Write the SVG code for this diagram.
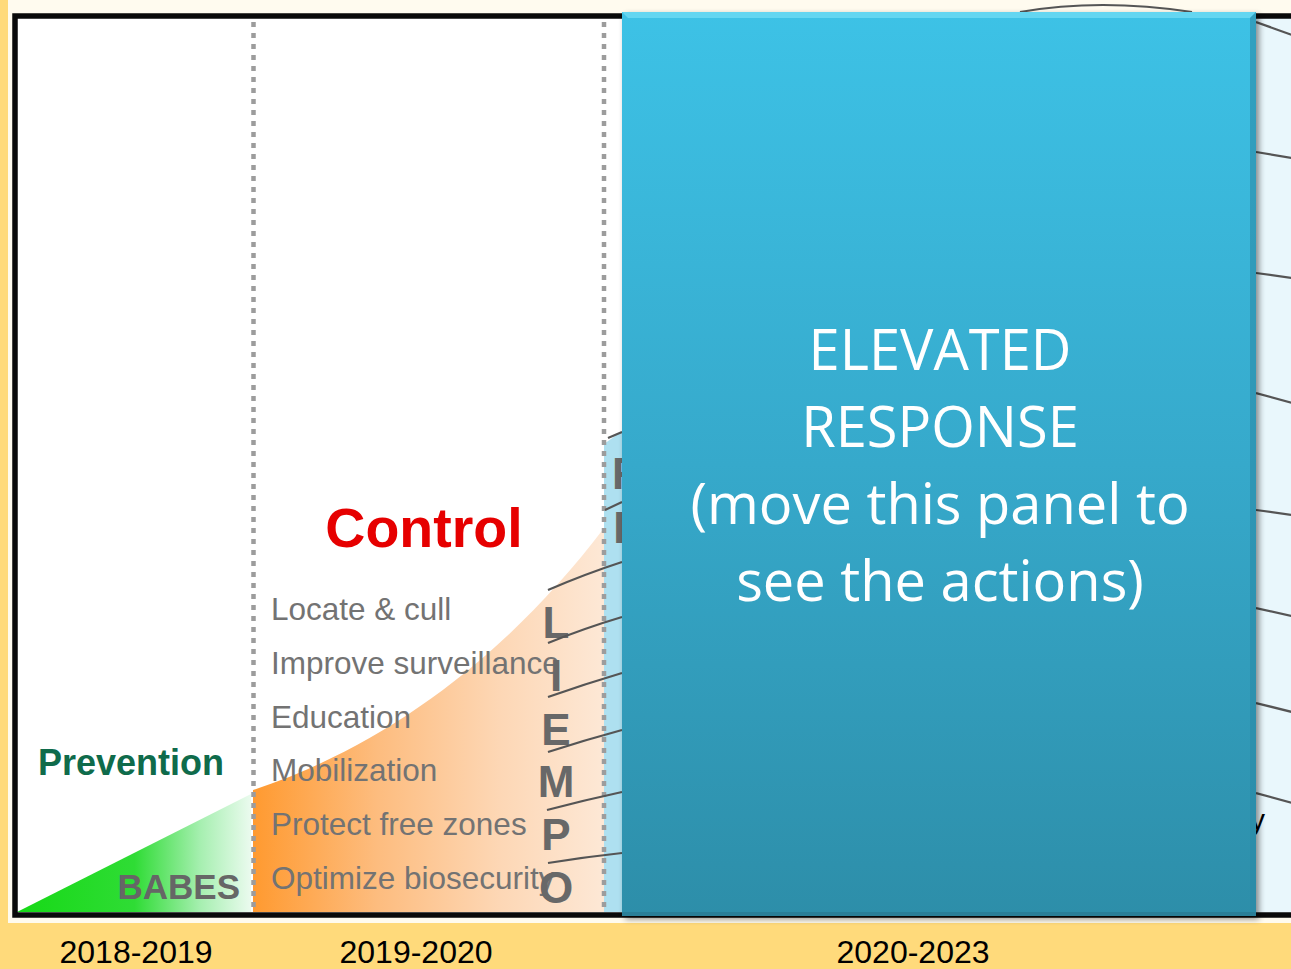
<svg xmlns="http://www.w3.org/2000/svg" width="1291" height="969" viewBox="0 0 1291 969">
<defs>
<style>
.lbl{font-family:"Liberation Sans",Arial,sans-serif;font-size:32px;fill:#000}
.item{font-family:"Liberation Sans",Arial,sans-serif;font-size:31.5px;fill:#737373}
.big{font-family:"Liberation Sans",Arial,sans-serif;font-size:44px;font-weight:bold;fill:#686868;text-anchor:middle}
.ptxt{font-family:"Open Sans","DejaVu Sans",sans-serif;font-size:56px;fill:#fff;text-anchor:middle}
.ln{stroke:#555;stroke-width:2.2;fill:none}
.dot{stroke:#9c9c9c;stroke-width:4.5;stroke-dasharray:5 6;fill:none}
</style>
<linearGradient id="gGreen" x1="17" y1="0" x2="252" y2="0" gradientUnits="userSpaceOnUse">
<stop offset="0" stop-color="#16d916"/>
<stop offset="0.5" stop-color="#2fdc35"/>
<stop offset="0.78" stop-color="#a6efb0"/>
<stop offset="1" stop-color="#ecfbf0"/>
</linearGradient>
<linearGradient id="gOrange" x1="253" y1="0" x2="605" y2="0" gradientUnits="userSpaceOnUse">
<stop offset="0" stop-color="#ff9a30"/>
<stop offset="0.35" stop-color="#fdbc7e"/>
<stop offset="0.7" stop-color="#fdd7b5"/>
<stop offset="1" stop-color="#fde8d6"/>
</linearGradient>
<linearGradient id="gPanel" x1="0" y1="12" x2="0" y2="916" gradientUnits="userSpaceOnUse">
<stop offset="0" stop-color="#3dc2e6"/>
<stop offset="0.5" stop-color="#36a9cb"/>
<stop offset="1" stop-color="#2d8ea9"/>
</linearGradient>
<filter id="sh" x="-5%" y="-5%" width="110%" height="110%">
<feGaussianBlur stdDeviation="3"/>
</filter>
<clipPath id="clipCol"><rect x="590" y="420" width="32" height="200"/></clipPath>
<clipPath id="clipRight"><rect x="1256" y="18" width="40" height="895"/></clipPath>
</defs>

<!-- background -->
<rect x="0" y="0" width="1291" height="969" fill="#ffda7b"/>
<rect x="8" y="0" width="1283" height="923" fill="#fffbef"/>

<g id="chart-area">
<rect x="15" y="16" width="1290" height="899" fill="#ffffff"/>
<rect x="1256" y="18" width="40" height="895" fill="#e9f7fc"/>
</g>

<g id="prevention">
<polygon points="17,912 251,794 251,912" fill="url(#gGreen)"/>
<text x="38" y="775" font-family="Liberation Sans,Arial,sans-serif" font-size="36" font-weight="bold" fill="#0f6b4b">Prevention</text>
<text x="240" y="899" font-family="Liberation Sans,Arial,sans-serif" font-size="35" font-weight="bold" fill="#666666" text-anchor="end">BABES</text>
</g>

<g id="control">
<path d="M253 790 C390 745 510 652 604 528 L604 912 L253 912 Z" fill="url(#gOrange)"/>
<polygon points="604,444 622,431 622,912 604,912" fill="#aee0f0"/>
<text x="424" y="547" font-family="Liberation Sans,Arial,sans-serif" font-size="55.5" font-weight="bold" fill="#e60000" text-anchor="middle">Control</text>
<text class="item" x="271" y="620">Locate &amp; cull</text>
<text class="item" x="271" y="674">Improve surveillance</text>
<text class="item" x="271" y="728">Education</text>
<text class="item" x="271" y="781">Mobilization</text>
<text class="item" x="271" y="835">Protect free zones</text>
<text class="item" x="271" y="889">Optimize biosecurity</text>
</g>

<g id="liempo">
<text class="big" x="556" y="638">L</text>
<text class="big" x="556" y="691">I</text>
<text class="big" x="556" y="745">E</text>
<text class="big" x="556" y="797">M</text>
<text class="big" x="556" y="850">P</text>
<text class="big" x="556" y="903">O</text>
<g clip-path="url(#clipCol)">
<text class="big" x="628" y="489">R</text>
<text class="big" x="628" y="543">E</text>
</g>
</g>

<g id="dividers">
<line class="dot" x1="253.5" y1="22" x2="253.5" y2="912"/>
<line class="dot" x1="604" y1="22" x2="604" y2="912"/>
</g>

<g id="connectors">
<path class="ln" d="M608 438 L622 432"/>
<path class="ln" d="M605 510 L622 502"/>
<path class="ln" d="M548 590 Q585 574 622 562"/>
<path class="ln" d="M548 643 Q585 628 622 617"/>
<path class="ln" d="M548 697 Q585 684 622 673"/>
<path class="ln" d="M548 752 Q585 740 622 730"/>
<path class="ln" d="M547 810 Q585 800 622 792"/>
<path class="ln" d="M548 863 Q585 857 622 853"/>
<path class="ln" d="M1020 12 Q1100 -2 1192 12"/>
<g clip-path="url(#clipRight)">
<path class="ln" d="M1256 22 L1292 35"/>
<path class="ln" d="M1256 152 L1292 158"/>
<path class="ln" d="M1256 273 L1292 278"/>
<path class="ln" d="M1256 393 L1292 403"/>
<path class="ln" d="M1256 510 L1292 515"/>
<path class="ln" d="M1256 608 L1292 616"/>
<path class="ln" d="M1256 703 L1292 712"/>
<path class="ln" d="M1256 793 L1292 803"/>
<text x="1250" y="830" font-family="Liberation Sans,Arial,sans-serif" font-size="30" fill="#000">y</text>
</g>
</g>

<g id="frame">
<rect x="15" y="16" width="1290" height="899" fill="none" stroke="#0a0a0a" stroke-width="5.5"/>
</g>

<g id="elevated-panel">
<rect x="625" y="15" width="634" height="904" fill="#000" opacity="0.45" filter="url(#sh)"/>
<rect x="622" y="12" width="634" height="904" fill="url(#gPanel)"/>
<polygon points="622,12 1256,12 1250,18 628,18" fill="#64d6f1"/>
<polygon points="1250,18 1256,12 1256,916 1250,912" fill="#2b8aa6" opacity="0.6"/>
<polygon points="622,912 1256,912 1256,916 622,916" fill="#2a7f98"/>
<text class="ptxt" x="940" y="370">ELEVATED</text>
<text class="ptxt" x="940" y="447">RESPONSE</text>
<text class="ptxt" x="940" y="524">(move this panel to</text>
<text class="ptxt" x="940" y="601">see the actions)</text>
</g>

<g id="years">
<text class="lbl" x="136" y="963" text-anchor="middle">2018-2019</text>
<text class="lbl" x="416" y="963" text-anchor="middle">2019-2020</text>
<text class="lbl" x="913" y="963" text-anchor="middle">2020-2023</text>
</g>
</svg>
